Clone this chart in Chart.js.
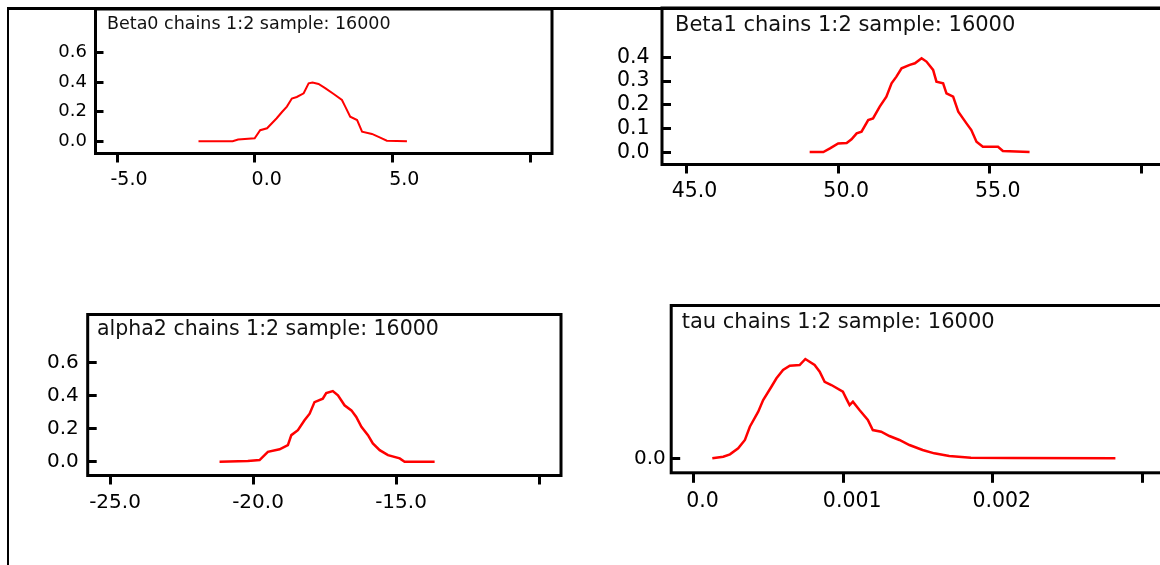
<!DOCTYPE html>
<html>
<head>
<meta charset="utf-8">
<script src="https://cdn.jsdelivr.net/npm/chart.js@4.4.1/dist/chart.umd.min.js"></script>
<style>
html,body{margin:0;padding:0;background:#fff;}
body{width:1160px;height:565px;overflow:hidden;position:relative;}
.pane{position:absolute;}
.frame{position:absolute;background:#000;}
</style>
</head>
<body>
<div class="frame" style="left:7px;top:7px;width:1153px;height:3px"></div>
<div class="frame" style="left:7px;top:7px;width:2px;height:558px"></div>
<div class="pane" style="left:0px;top:0px;width:570px;height:210px"><canvas id="c1"></canvas></div>
<div class="pane" style="left:570px;top:0px;width:620px;height:220px"><canvas id="c2"></canvas></div>
<div class="pane" style="left:0px;top:290px;width:570px;height:240px"><canvas id="c3"></canvas></div>
<div class="pane" style="left:570px;top:280px;width:620px;height:250px"><canvas id="c4"></canvas></div>
<script>
// ---------- data ----------
const panelTitles = [
  'Beta0 chains 1:2 sample: 16000',
  'Beta1 chains 1:2 sample: 16000',
  'alpha2 chains 1:2 sample: 16000',
  'tau chains 1:2 sample: 16000'
];

const beta0X = [-2.04,-0.8,-0.6,0.0,0.2,0.45,0.8,1.0,1.17,1.35,1.53,1.78,1.96,2.1,2.32,2.56,2.87,3.17,3.29,3.47,3.72,3.9,4.26,4.56,4.8,5.53];
const beta0Y = [0,0,0.012,0.02,0.075,0.088,0.156,0.2,0.235,0.29,0.3,0.325,0.393,0.398,0.388,0.36,0.32,0.28,0.235,0.167,0.144,0.065,0.05,0.025,0.004,0];

const beta1X = [49.06,49.51,49.73,50.0,50.28,50.44,50.61,50.77,50.99,51.15,51.37,51.59,51.76,51.92,52.09,52.36,52.53,52.75,52.91,53.13,53.24,53.46,53.57,53.79,53.96,54.23,54.39,54.56,54.77,55.27,55.43,56.31];
const beta1Y = [0.003,0.003,0.018,0.039,0.041,0.056,0.081,0.088,0.137,0.144,0.193,0.235,0.291,0.319,0.354,0.368,0.375,0.396,0.382,0.347,0.298,0.291,0.249,0.235,0.172,0.123,0.095,0.046,0.025,0.025,0.007,0.003];

const alpha2X = [-21.17,-20.18,-19.77,-19.48,-19.07,-18.78,-18.66,-18.43,-18.2,-18.02,-17.85,-17.56,-17.44,-17.21,-17.03,-16.8,-16.56,-16.39,-16.21,-15.98,-15.81,-15.57,-15.28,-14.87,-14.7,-13.65];
const alpha2Y = [0,0.004,0.01,0.06,0.075,0.1,0.161,0.191,0.251,0.291,0.361,0.382,0.416,0.428,0.402,0.342,0.311,0.271,0.211,0.161,0.111,0.07,0.04,0.02,0,0];

const tauX = [0.000125,0.000198,0.000243,0.000298,0.000343,0.000376,0.000432,0.000465,0.00052,0.000554,0.000598,0.000643,0.000709,0.000747,0.000809,0.000843,0.000876,0.000921,0.000998,0.00102,0.001043,0.001065,0.001109,0.001165,0.001198,0.001254,0.001309,0.001376,0.001443,0.001531,0.001609,0.001709,0.001854,0.00213,0.00282];
const tauY = [0,18,44,111,203,350,516,646,793,886,978,1026,1033,1100,1033,959,848,812,738,664,590,627,535,424,313,295,247,203,147,92,55,26,7,4,0];

const beta0XTicks = [-5,0,5,10];      const beta0XLabels = ['-5.0','0.0','5.0',''];
const beta0YTicks = [0,0.2,0.4,0.6];  const beta0YLabels = ['0.0','0.2','0.4','0.6'];
const beta1XTicks = [45,50,55,60];    const beta1XLabels = ['45.0','50.0','55.0',''];
const beta1YTicks = [0,0.1,0.2,0.3,0.4]; const beta1YLabels = ['0.0','0.1','0.2','0.3','0.4'];
const alpha2XTicks = [-25,-20,-15,-10]; const alpha2XLabels = ['-25.0','-20.0','-15.0',''];
const alpha2YTicks = [0,0.2,0.4,0.6]; const alpha2YLabels = ['0.0','0.2','0.4','0.6'];
const tauXTicks = [0,0.001,0.002,0.003]; const tauXLabels = ['0.0','0.001','0.002',''];
const tauYTicks = [0];                const tauYLabels = ['0.0'];

// ---------- drawing ----------
Chart.defaults.font.family = '"DejaVu Sans", Arial, sans-serif';
Chart.defaults.color = '#000';

const boxPlugin = {
  id: 'boxPlugin',
  afterDatasetsDraw(chart, args, opts) {
    const ctx = chart.ctx, a = chart.chartArea;
    ctx.save();
    ctx.lineWidth = 3;
    ctx.strokeStyle = '#000';
    ctx.strokeRect(a.left, a.top, a.right - a.left, a.bottom - a.top);
    ctx.fillStyle = '#111';
    ctx.font = opts.size + 'px "DejaVu Sans", Arial, sans-serif';
    ctx.textBaseline = 'middle';
    ctx.textAlign = 'left';
    ctx.fillText(opts.text, a.left + opts.dx, a.top + opts.dy);
    ctx.restore();
  }
};

function makePanel(id, s) {
  const pts = s.xs.map((x, i) => ({x: x, y: s.ys[i]}));
  return new Chart(document.getElementById(id), {
    type: 'line',
    data: { datasets: [{ data: pts, borderColor: '#ff0000', borderWidth: s.lw, pointRadius: 0, tension: 0, fill: false }] },
    plugins: [boxPlugin],
    options: {
      responsive: true, maintainAspectRatio: false, animation: false,
      events: [],
      layout: { autoPadding: false, padding: { left: 0, top: s.padTop, right: s.padRight, bottom: 0 } },
      plugins: { legend: { display: false }, tooltip: { enabled: false },
        boxPlugin: { text: s.title, dx: s.tdx, dy: s.tdy, size: s.tsize } },
      scales: {
        x: {
          type: 'linear', min: s.xMin, max: s.xMax,
          afterBuildTicks: sc => { sc.ticks = s.xTicks.map(v => ({value: v})); },
          afterFit: sc => { sc.height = s.xH; sc.paddingLeft = 0; sc.paddingRight = 0; sc.paddingTop = 0; sc.paddingBottom = 0; },
          border: { display: false },
          grid: { drawOnChartArea: false, drawTicks: true, tickLength: s.xTl, lineWidth: 3, color: '#000' },
          ticks: { autoSkip: false, maxRotation: 0, minRotation: 0, padding: s.xPad, labelOffset: s.xOff,
                   color: '#000', font: { size: s.xFont }, callback: (v, i) => s.xLabels[i] }
        },
        y: {
          type: 'linear', min: s.yMin, max: s.yMax,
          afterBuildTicks: sc => { sc.ticks = s.yTicks.map(v => ({value: v})); },
          afterFit: sc => { sc.width = s.yW; sc.paddingLeft = 0; sc.paddingRight = 0; sc.paddingTop = 0; sc.paddingBottom = 0; },
          border: { display: false },
          grid: { drawOnChartArea: false, drawTicks: true, tickLength: s.yTl, lineWidth: 3, color: '#000' },
          ticks: { autoSkip: false, padding: s.yPad, color: '#000', font: { size: s.yFont },
                   callback: (v, i) => s.yLabels[i] }
        }
      }
    }
  });
}

makePanel('c1', {
  xs: beta0X, ys: beta0Y, lw: 2, title: panelTitles[0], tdx: 11.5, tdy: 15, tsize: 17.5,
  xMin: -5.781, xMax: 10.799, yMin: -0.0826, yMax: 0.896,
  xTicks: beta0XTicks, xLabels: beta0XLabels, yTicks: beta0YTicks, yLabels: beta0YLabels,
  padTop: 9, padRight: 18, xH: 56.5, yW: 95.5,
  xTl: 9, xPad: 6.1, xOff: 12, xFont: 19, yTl: -8, yPad: 16.5, yFont: 18
});
makePanel('c2', {
  xs: beta1X, ys: beta1Y, lw: 2.5, title: panelTitles[1], tdx: 13, tdy: 18, tsize: 21,
  xMin: 44.192, xMax: 60.94, yMin: -0.0495, yMax: 0.6067,
  xTicks: beta1XTicks, xLabels: beta1XLabels, yTicks: beta1YTicks, yLabels: beta1YLabels,
  padTop: 8, padRight: 20, xH: 55.5, yW: 92,
  xTl: 9, xPad: 6.2, xOff: 8, xFont: 20.5, yTl: -9, yPad: 21.4, yFont: 20.5
});
makePanel('c3', {
  xs: alpha2X, ys: alpha2Y, lw: 2.5, title: panelTitles[2], tdx: 9.3, tdy: 15.5, tsize: 20.5,
  xMin: -25.78, xMax: -9.231, yMin: -0.0836, yMax: 0.892,
  xTicks: alpha2XTicks, xLabels: alpha2XLabels, yTicks: alpha2YTicks, yLabels: alpha2YLabels,
  padTop: 24.5, padRight: 9, xH: 54.5, yW: 87.7,
  xTl: 9, xPad: 6.5, xOff: 5, xFont: 20, yTl: -9, yPad: 17.9, yFont: 20
});
makePanel('c4', {
  xs: tauX, ys: tauY, lw: 2.5, title: panelTitles[3], tdx: 10.5, tdy: 17.5, tsize: 21,
  xMin: -0.0001498, xMax: 0.003185, yMin: -160.6, yMax: 1692.7,
  xTicks: tauXTicks, xLabels: tauXLabels, yTicks: tauYTicks, yLabels: tauYLabels,
  padTop: 25.5, padRight: 20, xH: 57.2, yW: 101.2,
  xTl: 10, xPad: 6.6, xOff: 9, xFont: 20.5, yTl: -9, yPad: 14.4, yFont: 20
});
</script>
</body>
</html>
